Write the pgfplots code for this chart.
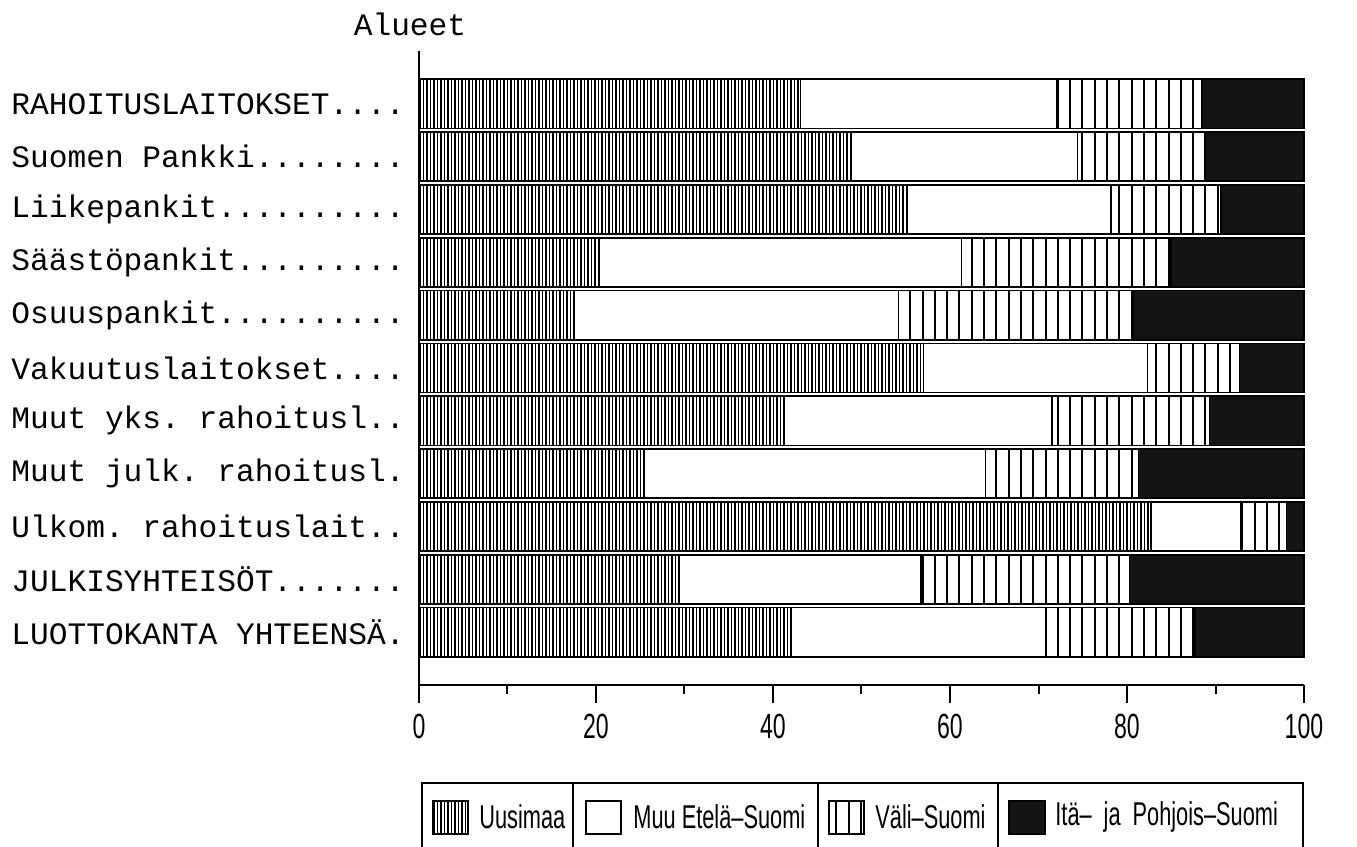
\documentclass[border=0pt]{standalone}
\usepackage{fontspec}
\usepackage{pgfplots}
\pgfplotsset{compat=1.18}
\usetikzlibrary{patterns.meta}
\frenchspacing
\newfontfamily\monofont{Liberation Mono}
\newfontfamily\narrowfont[FakeStretch=0.66]{Liberation Sans}
\tikzset{
  uusi/.style={pattern={Lines[angle=90,distance=1.75pt,line width=0.9pt]}},
  vali/.style={pattern={Lines[angle=90,distance=6.15pt,line width=1pt]}},
}
\newcommand\La{LUOTTOKANTA YHTEENSÄ.}
\newcommand\Lb{JULKISYHTEISÖT.......}
\newcommand\Lc{Ulkom. rahoituslait..}
\newcommand\Ld{Muut julk. rahoitusl.}
\newcommand\Le{Muut yks. rahoitusl..}
\newcommand\Lf{Vakuutuslaitokset....}
\newcommand\Lg{Osuuspankit..........}
\newcommand\Lh{Säästöpankit.........}
\newcommand\Li{Liikepankit..........}
\newcommand\Lj{Suomen Pankki........}
\newcommand\Lk{RAHOITUSLAITOKSET....}
\begin{document}
\begin{tikzpicture}
\useasboundingbox (0pt,0pt) rectangle (678.5pt,-423.5pt);
\begin{axis}[
  at={(209.5pt,-342.5pt)}, anchor=south west,
  scale only axis, width=442.5pt, height=317pt,
  xbar stacked, bar width=0.93,
  xmin=0, xmax=100, ymin=-1, ymax=11,
  axis lines*=left,
  axis line style={line width=1pt},
  xtick={0,20,...,100}, minor xtick={10,30,...,90},
  xtick align=outside,
  major tick length=9pt, minor tick length=4.5pt,
  every tick/.style={black,line width=1pt},
  /pgf/number format/assume math mode=true,
  xticklabel style={font=\narrowfont\fontsize{17.5}{19}\selectfont, yshift=-2pt},
  ytick={0,...,10},
  yticklabels={\La,\Lb,\Lc,\Ld,\Le,\Lf,\Lg,\Lh,\Li,\Lj,\Lk},
  ytick style={draw=none},
  yticklabel style={font=\monofont\fontsize{15.6}{18}\selectfont, inner sep=0pt, xshift=-7pt},
  clip=false,
]
\addplot[draw=black, line width=0.8pt, uusi] coordinates {
(42.1,0) (29.4,1) (82.7,2) (25.4,3) (41.3,4) (57.0,5) (17.5,6) (20.4,7) (55.2,8) (48.8,9) (43.1,10)};
\addplot[draw=black, line width=0.8pt, fill=white] coordinates {
(28.7,0) (27.3,1) (10.2,2) (38.6,3) (30.2,4) (25.3,5) (36.7,6) (40.9,7) (23.0,8) (25.6,9) (29.0,10)};
\addplot[draw=black, line width=0.8pt, vali] coordinates {
(16.9,0) (23.6,1) (5.1,2) (17.3,3) (17.8,4) (10.4,5) (26.5,6) (23.7,7) (12.4,8) (14.4,9) (16.4,10)};
\addplot[draw=black, line width=0.8pt, fill=black!92] coordinates {
(12.3,0) (19.7,1) (2.0,2) (18.7,3) (10.7,4) (7.3,5) (19.3,6) (15.0,7) (9.4,8) (11.2,9) (11.5,10)};
\end{axis}
\begin{scope}[x=0.5pt,y=-0.5pt]
\node[font=\monofont\fontsize{15.6}{18}\selectfont, inner sep=0pt] at (410,24) {Alueet};
% legend
\draw[line width=1pt] (422,870) -- (422,783) -- (1303,783) -- (1303,870);
\draw[line width=1pt] (573,783) -- (573,870);
\draw[line width=1pt] (818,783) -- (818,870);
\draw[line width=1pt] (998,783) -- (998,870);
\draw[line width=0.8pt, uusi] (433,801) rectangle (468,834);
\draw[line width=0.8pt, fill=white] (586,801) rectangle (621,834);
\draw[line width=0.8pt, vali] (829,801) rectangle (864,834);
\draw[line width=0.8pt, fill=black!92] (1009,801) rectangle (1045,834);
\begin{scope}[every node/.style={font=\narrowfont\fontsize{16.5}{18}\selectfont, inner sep=0pt, anchor=west}]
\node at (479,817) {Uusimaa};
\node at (633,817) {Muu Etelä–Suomi};
\node at (875,817) {Väli–Suomi};
\node at (1055,817) {Itä–\hspace{6pt}ja\hspace{6pt}Pohjois–Suomi};
\end{scope}
\end{scope}
\end{tikzpicture}
\end{document}
